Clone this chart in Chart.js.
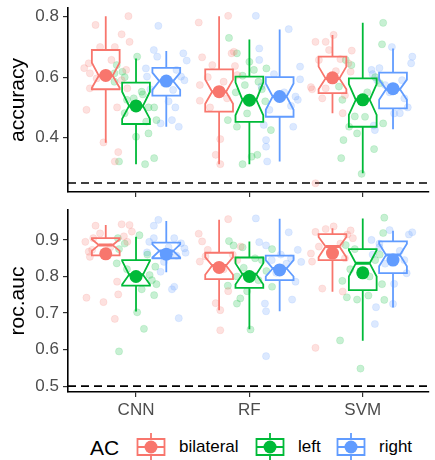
<!DOCTYPE html>
<html>
<head>
<meta charset="utf-8">
<script src="https://cdn.jsdelivr.net/npm/chart.js@4.4.0/dist/chart.umd.min.js"></script>
<style>
  body { margin: 0; background: #fff; width: 435px; height: 460px; overflow: hidden; position: relative; font-family: "Liberation Sans", Arial, sans-serif; }
  canvas.panel { position: absolute; left: 0; }
  #accPanel { top: 0; }
  #aucPanel { top: 200px; }
  .leg { position: absolute; white-space: nowrap; color: #000; }
  .legTitle { font-size: 21px; line-height: 24px; top: 436px; left: 90px; }
  .legText { font-size: 17px; line-height: 20px; top: 437px; }
  .legKey { position: absolute; top: 433px; }
</style>
</head>
<body>
<canvas id="accPanel" class="panel" width="435" height="200"></canvas>
<canvas id="aucPanel" class="panel" width="435" height="230"></canvas>
<div id="legend"></div>
<script>
const categories = ["CNN", "RF", "SVM"];
const acGroups = ["bilateral", "left", "right"];
const acColors = ["#F8766D", "#00BA38", "#619CFF"];

const accTicks = [0.4, 0.6, 0.8];
const aucTicks = [0.5, 0.6, 0.7, 0.8, 0.9];
const accChance = 0.25;
const aucChance = 0.5;

// box stats per model: [whiskerLow, q1, notchLow, median, notchHigh, q3, whiskerHigh]
const accBoxBilateral = [[0.383, 0.56, 0.565, 0.605, 0.648, 0.69, 0.802], [0.312, 0.486, 0.512, 0.552, 0.592, 0.626, 0.802], [0.481, 0.547, 0.56, 0.596, 0.635, 0.668, 0.74]];
const accBoxLeft = [[0.312, 0.445, 0.462, 0.505, 0.552, 0.582, 0.662], [0.312, 0.452, 0.474, 0.525, 0.583, 0.602, 0.725], [0.282, 0.436, 0.475, 0.525, 0.577, 0.596, 0.78]];
const accBoxRight = [[0.436, 0.539, 0.558, 0.587, 0.615, 0.631, 0.687], [0.321, 0.469, 0.492, 0.536, 0.579, 0.6, 0.758], [0.428, 0.497, 0.525, 0.56, 0.592, 0.615, 0.695]];
const aucBoxBilateral = [[0.85, 0.858, 0.87, 0.886, 0.902, 0.905, 0.941], [0.708, 0.793, 0.805, 0.83, 0.853, 0.865, 0.955], [0.758, 0.845, 0.853, 0.882, 0.908, 0.916, 0.932]];
const aucBoxLeft = [[0.704, 0.775, 0.778, 0.805, 0.843, 0.845, 0.909], [0.656, 0.769, 0.778, 0.806, 0.836, 0.852, 0.896], [0.624, 0.763, 0.8, 0.836, 0.872, 0.875, 0.959]];
const aucBoxRight = [[0.812, 0.85, 0.852, 0.87, 0.888, 0.893, 0.952], [0.705, 0.79, 0.8, 0.822, 0.845, 0.857, 0.958], [0.715, 0.809, 0.828, 0.859, 0.89, 0.896, 0.925]];

// means per model (CNN, RF, SVM)
const accMeanBilateral = [0.606, 0.552, 0.598];
const accMeanLeft = [0.505, 0.524, 0.525];
const accMeanRight = [0.587, 0.536, 0.562];
const aucMeanBilateral = [0.862, 0.825, 0.864];
const aucMeanLeft = [0.80, 0.80, 0.81];
const aucMeanRight = [0.861, 0.818, 0.845];

// single runs per model: [jitter, value]
const accPtsBilateral = [
  [[-0.09,.773],[0.20,.802],[0.14,.742],[0.21,.717],[-0.05,.70],[0.08,.70],[-0.15,.646],[0.05,.657],[-0.14,.613],[0.18,.624],[-0.19,.63],[-0.14,.563],[0.19,.563],[-0.17,.492],[0.10,.50],[-0.02,.384],[0.11,.352],[0.08,.321],[-0.08,.596],[0.14,.59]],
  [[-0.18,.781],[0.08,.803],[-0.15,.666],[0.11,.679],[0.14,.637],[0.16,.607],[-0.17,.574],[-0.17,.522],[-0.03,.343],[0.01,.312],[0.01,.395],[0.07,.53],[-0.10,.60],[0.04,.585],[-0.06,.64],[0.13,.684],[-0.08,.50]],
  [[-0.15,.717],[-0.06,.717],[0.01,.74],[0.17,.688],[-0.12,.657],[-0.19,.567],[-0.18,.56],[-0.09,.53],[0.14,.646],[0.16,.618],[0.09,.481],[-0.15,.249],[-0.06,.563],[-0.03,.69],[0.07,.66],[0.11,.54],[0.03,.62]]
];
const accPtsLeft = [
  [[0.01,.668],[-0.12,.618],[-0.19,.585],[0.05,.552],[-0.02,.53],[0.16,.50],[0.11,.50],[-0.10,.481],[0.09,.453],[0.18,.458],[0.00,.403],[0.11,.414],[-0.15,.321],[0.08,.312],[0.16,.332],[-0.08,.525],[-0.19,.613],[-0.17,.64],[0.06,.543],[-0.10,.60]],
  [[-0.18,.73],[-0.11,.679],[0.00,.651],[0.04,.624],[0.15,.629],[-0.04,.574],[-0.19,.458],[-0.11,.436],[0.19,.425],[0.07,.343],[-0.06,.312],[0.02,.337],[0.11,.56],[-0.06,.605],[0.08,.585],[0.14,.52],[-0.12,.55],[-0.02,.48]],
  [[0.18,.78],[0.17,.709],[-0.15,.657],[0.15,.58],[-0.21,.569],[-0.18,.525],[0.02,.469],[-0.12,.436],[-0.05,.414],[0.18,.447],[-0.17,.392],[0.10,.362],[-0.19,.332],[-0.01,.28],[-0.10,.64],[0.11,.60],[0.04,.55],[-0.07,.47]]
];
const accPtsRight = [
  [[-0.07,.77],[-0.11,.69],[0.15,.679],[0.18,.655],[-0.18,.629],[0.09,.624],[-0.08,.668],[0.13,.602],[0.06,.558],[0.08,.50],[0.05,.458],[0.11,.436],[-0.05,.447],[-0.17,.602],[-0.02,.58],[-0.14,.56],[0.02,.52],[0.16,.59]],
  [[-0.21,.803],[0.08,.759],[-0.18,.695],[-0.18,.657],[0.18,.635],[0.18,.593],[0.14,.536],[0.16,.525],[0.12,.436],[-0.12,.392],[-0.12,.37],[-0.11,.321],[-0.14,.442],[-0.09,.492],[0.04,.55],[-0.05,.61],[0.10,.505],[-0.16,.57]],
  [[-0.01,.70],[0.17,.668],[0.16,.646],[-0.19,.624],[-0.14,.59],[-0.07,.574],[0.13,.50],[0.06,.481],[-0.16,.425],[-0.17,.44],[0.08,.59],[-0.12,.63],[-0.03,.55],[0.10,.53],[-0.18,.61],[0.01,.48]]
];
const aucPtsBilateral = [
  [[-0.17,.742],[-0.02,.73],[0.08,.684],[-0.09,.939],[-0.18,.895],[-0.14,.854],[0.14,.943],[0.21,.941],[0.23,.923],[0.19,.895],[0.11,.751],[0.10,.786],[-0.11,.905],[-0.12,.873],[-0.05,.918],[-0.15,.868],[0.04,.88],[0.16,.91]],
  [[0.08,.957],[-0.18,.917],[-0.15,.896],[-0.10,.873],[-0.17,.841],[0.19,.882],[0.08,.76],[-0.03,.727],[0.01,.708],[0.01,.653],[0.12,.86],[0.16,.845],[-0.12,.855],[0.04,.82]],
  [[0.01,.937],[-0.15,.922],[0.16,.926],[-0.12,.882],[-0.19,.863],[-0.18,.841],[-0.09,.767],[0.09,.759],[-0.15,.605],[0.13,.915],[-0.06,.93],[0.18,.905],[0.07,.89],[-0.02,.87],[0.11,.85]]
];
const aucPtsLeft = [
  [[-0.16,.905],[0.03,.913],[-0.17,.836],[0.17,.827],[0.18,.779],[0.16,.749],[0.01,.702],[0.07,.657],[-0.15,.595],[0.12,.804],[-0.15,.875],[-0.10,.89],[0.10,.86],[0.14,.79],[-0.08,.82],[0.05,.765]],
  [[-0.18,.897],[0.20,.875],[-0.05,.824],[-0.19,.775],[0.20,.772],[-0.08,.74],[-0.11,.726],[0.01,.655],[-0.14,.885],[-0.06,.88],[0.05,.85],[0.11,.845],[-0.11,.80],[0.08,.79],[-0.02,.76],[0.15,.815]],
  [[0.19,.961],[0.18,.919],[-0.18,.788],[0.17,.779],[-0.14,.743],[-0.05,.737],[0.05,.748],[0.19,.736],[-0.20,.625],[-0.02,.548],[-0.15,.886],[-0.07,.875],[0.11,.845],[0.15,.86],[-0.11,.82],[0.06,.80]]
];
const aucPtsRight = [
  [[-0.07,.955],[-0.11,.939],[-0.11,.905],[0.07,.905],[0.13,.891],[0.16,.877],[-0.17,.866],[0.09,.857],[0.07,.772],[0.05,.765],[0.11,.686],[-0.05,.813],[-0.15,.895],[0.17,.865],[0.02,.88],[-0.02,.84]],
  [[-0.21,.959],[0.08,.921],[-0.18,.894],[-0.12,.885],[0.16,.873],[0.14,.786],[0.11,.737],[-0.13,.726],[-0.12,.705],[-0.12,.582],[0.10,.85],[0.06,.835],[-0.07,.845],[-0.03,.81],[0.19,.84],[0.01,.86]],
  [[0.17,.921],[-0.19,.90],[-0.03,.927],[0.12,.809],[-0.15,.716],[0.00,.725],[-0.16,.67],[0.14,.915],[-0.12,.88],[0.06,.87],[-0.18,.86],[-0.07,.835],[0.10,.845],[0.01,.78],[-0.12,.89]]
];

const fontFamily = '"Liberation Sans", Arial, sans-serif';
const dodge = [-0.267, 0, 0.267];
const boxHalf = 0.1225;

function withAlpha(hex, a) {
  const n = parseInt(hex.slice(1), 16);
  return `rgba(${(n >> 16) & 255}, ${(n >> 8) & 255}, ${n & 255}, ${a})`;
}

function notchedBoxes(boxSets) {
  return {
    id: "notchedBoxes",
    beforeDatasetDraw(chart, args) {
      if (!chart.data.datasets[args.index].isMean) return;
      const xs = chart.scales.x, ys = chart.scales.y;
      const ctx = chart.ctx;
      const area = chart.chartArea;
      ctx.save();
      ctx.beginPath();
      ctx.rect(area.left, area.top, area.right - area.left, area.bottom - area.top);
      ctx.clip();
      ctx.lineJoin = "miter";
      boxSets.forEach((boxes, g) => {
        boxes.forEach((b, c) => {
          const [wLo, q1, nLo, med, nHi, q3, wHi] = b;
          const cx = c + 1 + dodge[g];
          const xl = xs.getPixelForValue(cx - boxHalf);
          const xr = xs.getPixelForValue(cx + boxHalf);
          const xnl = xs.getPixelForValue(cx - boxHalf / 2);
          const xnr = xs.getPixelForValue(cx + boxHalf / 2);
          const xc = xs.getPixelForValue(cx);
          const py = v => ys.getPixelForValue(v);
          ctx.strokeStyle = acColors[g];
          ctx.lineWidth = 1.8;
          ctx.beginPath();
          ctx.moveTo(xc, py(q3));
          ctx.lineTo(xc, py(wHi));
          ctx.moveTo(xc, py(q1));
          ctx.lineTo(xc, py(wLo));
          ctx.stroke();
          ctx.beginPath();
          ctx.moveTo(xl, py(q3));
          ctx.lineTo(xl, py(nHi));
          ctx.lineTo(xnl, py(med));
          ctx.lineTo(xl, py(nLo));
          ctx.lineTo(xl, py(q1));
          ctx.lineTo(xr, py(q1));
          ctx.lineTo(xr, py(nLo));
          ctx.lineTo(xnr, py(med));
          ctx.lineTo(xr, py(nHi));
          ctx.lineTo(xr, py(q3));
          ctx.closePath();
          ctx.stroke();
          ctx.lineWidth = 3;
          ctx.beginPath();
          ctx.moveTo(xnl, py(med));
          ctx.lineTo(xnr, py(med));
          ctx.stroke();
        });
      });
      ctx.restore();
    }
  };
}

function makePanel(canvasId, cfg) {
  const datasets = [];
  datasets.push({
    type: "line",
    data: [{ x: 0.4, y: cfg.chance }, { x: 3.6, y: cfg.chance }],
    borderColor: "#000",
    borderWidth: 1.6,
    borderDash: [8, 5],
    pointRadius: 0,
    order: 5
  });
  cfg.points.forEach((perModel, g) => {
    const data = [];
    perModel.forEach((runs, c) => {
      runs.forEach(([dx, v]) => data.push({ x: c + 1 + dodge[g] + dx, y: v }));
    });
    datasets.push({
      type: "scatter",
      data,
      pointRadius: 3.6,
      backgroundColor: withAlpha(acColors[g], 0.22),
      borderColor: withAlpha(acColors[g], 0.12),
      borderWidth: 1,
      order: 4
    });
  });
  const meanData = [], meanColors = [];
  cfg.means.forEach((m, g) => {
    m.forEach((v, c) => {
      meanData.push({ x: c + 1 + dodge[g], y: v });
      meanColors.push(acColors[g]);
    });
  });
  datasets.push({
    type: "scatter",
    data: meanData,
    pointRadius: 6.5,
    backgroundColor: meanColors,
    borderWidth: 0,
    order: 0,
    isMean: true
  });

  const axisGrid = { display: true, drawOnChartArea: false, drawTicks: true, tickLength: 5, color: "#333", lineWidth: 1.2 };
  const axisBorder = { display: true, color: "#000", width: 1.6 };

  return new Chart(document.getElementById(canvasId), {
    type: "scatter",
    data: { datasets },
    plugins: [notchedBoxes(cfg.boxes)],
    options: {
      responsive: false,
      animation: false,
      events: [],
      layout: { padding: { top: cfg.padTop, left: 0, right: 0, bottom: 0 } },
      plugins: { legend: { display: false }, tooltip: { enabled: false } },
      scales: {
        x: {
          type: "linear",
          min: 0.4,
          max: 3.58,
          afterBuildTicks: s => { s.ticks = categories.map((_, i) => ({ value: i + 1 })); },
          ticks: {
            display: cfg.showX,
            callback: v => categories[Math.round(v) - 1],
            font: { size: 17, family: fontFamily },
            color: "#4D4D4D",
            padding: 3
          },
          grid: axisGrid,
          border: axisBorder,
          afterFit: s => { s.height = cfg.xHeight; s.paddingLeft = 0; s.paddingRight = 0; }
        },
        y: {
          type: "linear",
          min: cfg.yMin,
          max: cfg.yMax,
          afterBuildTicks: s => { s.ticks = cfg.ticks.map(v => ({ value: v })); },
          ticks: {
            callback: v => v.toFixed(1),
            font: { size: 17, family: fontFamily },
            color: "#4D4D4D",
            padding: 4
          },
          title: {
            display: true,
            text: cfg.title,
            color: "#000",
            font: { size: 21, family: fontFamily },
            padding: { top: 6, bottom: 0 }
          },
          grid: axisGrid,
          border: axisBorder,
          afterFit: s => { s.width = 68; s.paddingTop = 0; s.paddingBottom = 0; }
        }
      }
    }
  });
}

makePanel("accPanel", {
  title: "accuracy",
  ticks: accTicks,
  yMin: 0.22,
  yMax: 0.829,
  chance: accChance,
  boxes: [accBoxBilateral, accBoxLeft, accBoxRight],
  means: [accMeanBilateral, accMeanLeft, accMeanRight],
  points: [accPtsBilateral, accPtsLeft, accPtsRight],
  showX: false,
  xHeight: 8,
  padTop: 8
});

makePanel("aucPanel", {
  title: "roc.auc",
  ticks: aucTicks,
  yMin: 0.484,
  yMax: 0.982,
  chance: aucChance,
  boxes: [aucBoxBilateral, aucBoxLeft, aucBoxRight],
  means: [aucMeanBilateral, aucMeanLeft, aucMeanRight],
  points: [aucPtsBilateral, aucPtsLeft, aucPtsRight],
  showX: true,
  xHeight: 38,
  padTop: 10
});

// legend: boxplot keys drawn like ggplot's
const legend = document.getElementById("legend");
const legTitle = document.createElement("div");
legTitle.className = "leg legTitle";
legTitle.textContent = "AC";
legend.appendChild(legTitle);

const keyLeft = [137, 256, 337];
const textLeft = [179, 298, 379];
acGroups.forEach((name, g) => {
  const key = document.createElement("canvas");
  key.className = "legKey";
  key.width = 30;
  key.height = 28;
  key.style.left = (keyLeft[g] - 1) + "px";
  legend.appendChild(key);
  const k = key.getContext("2d");
  k.strokeStyle = acColors[g];
  k.lineWidth = 1.8;
  k.beginPath();
  k.moveTo(15, 0); k.lineTo(15, 6);
  k.moveTo(15, 22); k.lineTo(15, 28);
  k.rect(1.5, 6, 27, 16);
  k.moveTo(1.5, 14); k.lineTo(28.5, 14);
  k.stroke();
  k.fillStyle = acColors[g];
  k.beginPath();
  k.arc(15, 14, 6.5, 0, Math.PI * 2);
  k.fill();

  const label = document.createElement("div");
  label.className = "leg legText";
  label.style.left = textLeft[g] + "px";
  label.textContent = name;
  legend.appendChild(label);
});
</script>
</body>
</html>
